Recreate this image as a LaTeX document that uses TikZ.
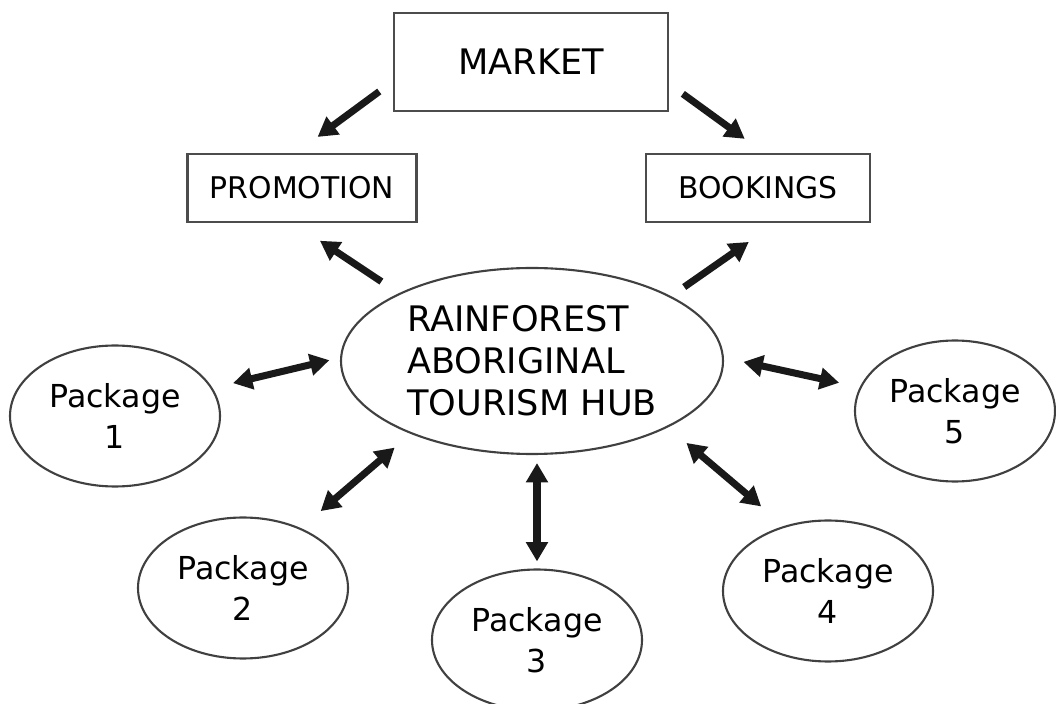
\documentclass[tikz,border=0pt]{standalone}
\usepackage{fontspec}
\setmainfont{DejaVu Sans}
\usetikzlibrary{shapes.geometric,arrows.meta}

\begin{document}
\begin{tikzpicture}[
    box/.style={draw=black!70, line width=0.6pt, inner sep=0pt},
    bubble/.style={ellipse, draw=black!75, line width=0.6pt, inner sep=0pt,
      minimum width=2.1cm, minimum height=1.41cm, align=center,
      font=\fontsize{9}{11.7}\selectfont},
    link/.style={line width=2pt, black!90, -{Triangle[length=5.5pt,width=6pt]}},
    twoway/.style={link, {Triangle[length=5.5pt,width=6pt]}-{Triangle[length=5.5pt,width=6pt]}}
  ]
    \useasboundingbox (0,0) rectangle (10.56,7.04);

    % top row
    \node[box, minimum width=2.74cm, minimum height=0.98cm,
      font=\fontsize{10}{12}\selectfont] (market) at (5.31,6.42) {MARKET};
    \node[box, minimum width=2.29cm, minimum height=0.68cm,
      font=\fontsize{8.5}{10}\selectfont] (promo) at (3.02,5.16) {PROMOTION};
    \node[box, minimum width=2.24cm, minimum height=0.68cm,
      font=\fontsize{8.5}{10}\selectfont] (book) at (7.58,5.16) {BOOKINGS};

    % the hub
    \node[ellipse, draw=black!75, line width=0.6pt, inner sep=0pt,
      minimum width=3.82cm, minimum height=1.86cm, align=left,
      font=\fontsize{10}{12}\selectfont] (hub) at (5.32,3.43)
      {RAINFOREST\\ABORIGINAL\\TOURISM HUB};

    % packages
    \node[bubble] (pk1) at (1.15,2.88) {Package\\1};
    \node[bubble] (pk2) at (2.43,1.16) {Package\\2};
    \node[bubble] (pk3) at (5.37,0.64) {Package\\3};
    \node[bubble] (pk4) at (8.28,1.13) {Package\\4};
    \node[bubble, minimum width=2.0cm] (pk5) at (9.55,2.93) {Package\\5};

    \draw[link, shorten <=0.17cm, shorten >=0.27cm] (market.188) -- (promo.100);
    \draw[link, shorten <=0.17cm, shorten >=0.24cm] (market.351) -- (book.80);
    \draw[link, shorten <=0.21cm, shorten >=0.32cm] (hub.153) -- (promo.256);
    \draw[link, shorten <=0.16cm, shorten >=0.33cm] (hub.25) -- (book.297);

    \draw[twoway, shorten <=0.11cm, shorten >=0.21cm] (hub.179) -- (pk1.16);
    \draw[twoway, shorten <=0.21cm, shorten >=0.26cm] (hub.211) -- (pk2.46);
    \draw[twoway, shorten <=0.08cm, shorten >=0.07cm] (pk3.north |- hub.south) -- (pk3.north);
    \draw[twoway, shorten <=0.24cm, shorten >=0.30cm] (hub.334) -- (pk4.124);
    \draw[twoway, shorten <=0.20cm, shorten >=0.21cm] (hub.1) -- (pk5.166);
\end{tikzpicture}
\end{document}
